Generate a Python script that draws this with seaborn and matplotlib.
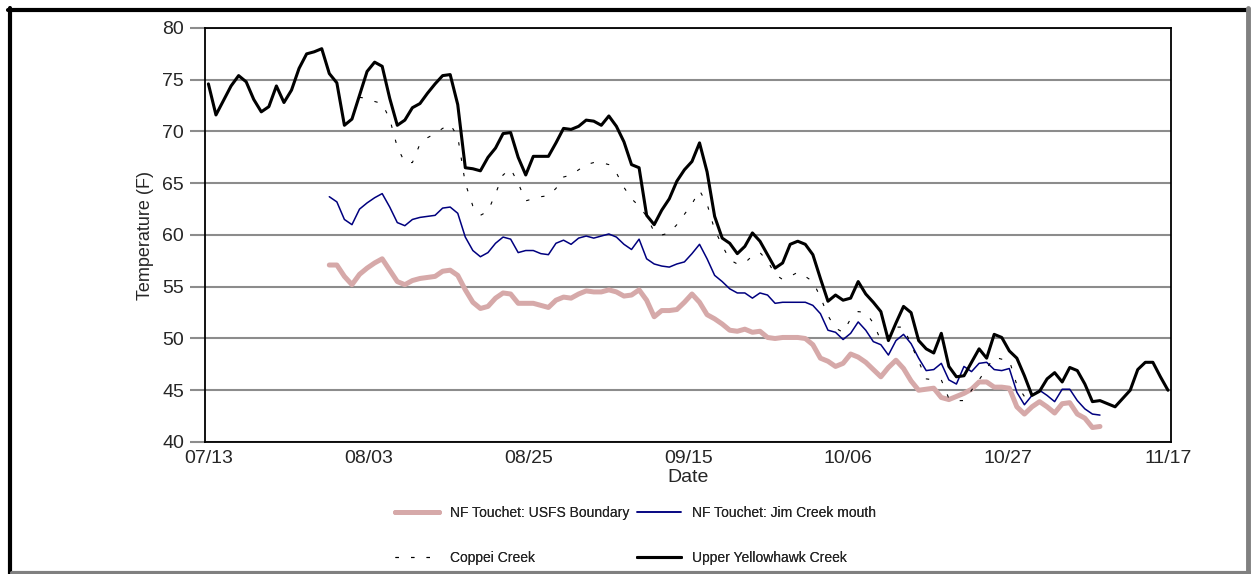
import numpy as np
import pandas as pd
import matplotlib
matplotlib.use("Agg")
import matplotlib.pyplot as plt
from matplotlib.lines import Line2D
import seaborn as sns

# daily mean temperatures (F), day 0 = 07/13
yellowhawk_start = 0
yellowhawk = [74.6, 71.6, 73.0, 74.4, 75.4, 74.8, 73.1, 71.9, 72.4, 74.4,
              72.8, 74.0, 76.1, 77.5, 77.7, 78.0, 75.6, 74.7, 70.6, 71.2,
              73.5, 75.8, 76.7, 76.3, 73.2, 70.6, 71.1, 72.3, 72.7, 73.7,
              74.6, 75.4, 75.5, 72.6, 66.5, 66.4, 66.2, 67.5, 68.4, 69.8,
              69.9, 67.5, 65.8, 67.6, 67.6, 67.6, 68.9, 70.3, 70.2, 70.5,
              71.1, 71.0, 70.6, 71.5, 70.5, 69.0, 66.8, 66.5, 61.9, 61.0,
              62.4, 63.5, 65.2, 66.3, 67.1, 68.9, 66.1, 61.8, 59.7, 59.2,
              58.2, 58.9, 60.2, 59.4, 58.1, 56.8, 57.3, 59.1, 59.4, 59.1,
              58.1, 55.8, 53.6, 54.2, 53.7, 53.9, 55.5, 54.3, 53.5, 52.6,
              49.8, 51.5, 53.1, 52.5, 49.8, 49.0, 48.6, 50.5, 47.3, 46.3,
              46.4, 47.7, 49.0, 48.1, 50.4, 50.1, 48.8, 48.1, 46.4, 44.5,
              44.9, 46.1, 46.7, 45.8, 47.2, 46.9, 45.6, 43.9, 44.0, 43.7,
              43.4, 44.2, 45.0, 47.0, 47.7, 47.7, 46.3, 45.0]

jim_creek_start = 16
jim_creek = [63.7, 63.2, 61.5, 61.0, 62.5, 63.1, 63.6, 64.0, 62.7, 61.2,
             60.9, 61.5, 61.7, 61.8, 61.9, 62.6, 62.7, 62.1, 59.8, 58.5,
             57.9, 58.3, 59.2, 59.8, 59.6, 58.3, 58.5, 58.5, 58.2, 58.1,
             59.2, 59.5, 59.1, 59.7, 59.9, 59.7, 59.9, 60.1, 59.8, 59.1,
             58.6, 59.6, 57.7, 57.2, 57.0, 56.9, 57.2, 57.4, 58.2, 59.1,
             57.7, 56.1, 55.5, 54.8, 54.4, 54.4, 53.9, 54.4, 54.2, 53.4,
             53.5, 53.5, 53.5, 53.5, 53.2, 52.4, 50.8, 50.6, 49.9, 50.5,
             51.6, 50.8, 49.7, 49.4, 48.4, 49.8, 50.4, 49.5, 48.1, 46.9,
             47.0, 47.6, 46.0, 45.6, 47.3, 46.8, 47.6, 47.7, 47.0, 46.9,
             47.1, 44.8, 43.6, 44.5, 45.0, 44.5, 43.9, 45.1, 45.1, 44.0,
             43.2, 42.7, 42.6]

usfs_start = 16
usfs = [57.1, 57.1, 56.0, 55.2, 56.2, 56.8, 57.3, 57.7, 56.6, 55.5,
        55.2, 55.6, 55.8, 55.9, 56.0, 56.5, 56.6, 56.1, 54.7, 53.5,
        52.9, 53.1, 53.9, 54.4, 54.3, 53.4, 53.4, 53.4, 53.2, 53.0,
        53.7, 54.0, 53.9, 54.3, 54.6, 54.5, 54.5, 54.7, 54.5, 54.1,
        54.2, 54.7, 53.7, 52.1, 52.7, 52.7, 52.8, 53.5, 54.3, 53.5,
        52.3, 51.9, 51.4, 50.8, 50.7, 50.9, 50.6, 50.7, 50.1, 50.0,
        50.1, 50.1, 50.1, 50.0, 49.4, 48.1, 47.8, 47.3, 47.6, 48.5,
        48.2, 47.7, 47.0, 46.3, 47.2, 47.9, 47.1, 45.9, 45.0, 45.1,
        45.2, 44.3, 44.1, 44.4, 44.7, 45.1, 45.8, 45.8, 45.3, 45.3,
        45.2, 43.4, 42.7, 43.4, 43.9, 43.4, 42.8, 43.7, 43.8, 42.7,
        42.3, 41.4, 41.5]

coppei_start = 20
coppei = [73.3, 73.2, 72.9, 72.7, 71.2, 68.5, 67.0, 67.0, 68.8, 69.4,
          69.8, 70.3, 70.7, 69.5, 65.0, 62.8, 61.9, 62.3, 64.0, 65.8,
          66.4, 65.0, 63.3, 63.5, 63.7, 63.8, 64.5, 65.6, 65.8, 66.3,
          66.8, 67.0, 67.0, 66.8, 66.0, 64.6, 63.5, 62.8, 61.8, 60.3,
          60.0, 60.2, 61.0, 62.0, 63.0, 64.3, 63.0, 60.5, 59.0, 57.6,
          57.2, 57.3, 58.0, 58.3, 57.5, 56.2, 55.7, 56.0, 56.4, 56.0,
          55.5, 54.0, 52.2, 51.0, 50.6, 51.9, 52.6, 52.5, 51.5, 49.8,
          50.3, 51.1, 51.1, 49.4, 47.8, 46.1, 46.0, 46.0, 44.2, 44.0,
          44.0, 45.0, 46.0, 47.1, 48.2, 48.0, 47.9, 45.5, 44.4, 44.8]

date_labels = ["07/13", "08/03", "08/25", "09/15", "10/06", "10/27", "11/17"]
n_days = 127

PINK = "#d6a9a9"
NAVY = "#00007f"
DOTTED = (0, (3, 11))


def series_frame(start, values):
    return pd.DataFrame({"day": start + np.arange(len(values)), "temp": values})


sns.set_style("white")
plt.rcParams["font.family"] = ["Liberation Sans", "DejaVu Sans"]

fig = plt.figure(figsize=(12.51, 5.74), dpi=100)
ax = fig.add_axes([205 / 1251, 1 - 442 / 574, 966 / 1251, 414 / 574])

sns.lineplot(data=series_frame(usfs_start, usfs), x="day", y="temp", ax=ax,
             color=PINK, lw=3.6, zorder=3)
sns.lineplot(data=series_frame(jim_creek_start, jim_creek), x="day", y="temp", ax=ax,
             color=NAVY, lw=1.1, zorder=4)
sns.lineplot(data=series_frame(coppei_start, coppei), x="day", y="temp", ax=ax,
             color="black", lw=0.8, zorder=5)
ax.lines[-1].set_linestyle(DOTTED)
sns.lineplot(data=series_frame(yellowhawk_start, yellowhawk), x="day", y="temp", ax=ax,
             color="black", lw=2.2, zorder=6)

ax.set_xlim(-0.45, n_days + 0.4)
ax.set_ylim(40, 80)
ax.set_yticks(np.arange(40, 81, 5))
ax.set_xticks(np.linspace(0, n_days, len(date_labels)))
ax.set_xticklabels(date_labels)
ax.yaxis.grid(True, color="#8c8c8c", lw=1.5)
ax.set_axisbelow(True)
ax.tick_params(axis="y", length=11, width=1.5, color="#8c8c8c", labelsize=14, pad=4, left=True)
ax.tick_params(axis="x", length=0, labelsize=14, pad=6)
for s in ax.spines.values():
    s.set_color("black")
    s.set_linewidth(1.3)
ax.set_xlabel("Date", fontsize=14, labelpad=1)
ax.set_ylabel("Temperature (F)", fontsize=13, labelpad=6)

# legend: two columns placed separately
col1 = ([Line2D([], [], color=PINK, lw=3.6), Line2D([], [], color="black", lw=0.8, ls=DOTTED)],
        ["NF Touchet: USFS Boundary", "Coppei Creek"], 395)
col2 = ([Line2D([], [], color=NAVY, lw=1.1), Line2D([], [], color="black", lw=2.2)],
        ["NF Touchet: Jim Creek mouth", "Upper Yellowhawk Creek"], 637)
for h, lab, x0 in (col1, col2):
    leg = fig.legend(h, lab, loc="upper left", bbox_to_anchor=(x0 / 1251, 1 - 506 / 574),
                     frameon=False, prop={"size": 10}, borderaxespad=0,
                     handlelength=3.2, handletextpad=0.75, labelspacing=2.2, borderpad=0)
    fig.add_artist(leg)

# outer frame
fig.add_artist(Line2D([9.5 / 1251, 9.5 / 1251], [1 - 8 / 574, 0], color="black", lw=3, transform=fig.transFigure))
fig.add_artist(Line2D([8 / 1251, 1247 / 1251], [1 - 9.5 / 574, 1 - 9.5 / 574], color="black", lw=3, transform=fig.transFigure))
fig.add_artist(Line2D([1248 / 1251, 1248 / 1251], [1 - 8 / 574, 0], color="#808080", lw=3.5, transform=fig.transFigure))
fig.add_artist(Line2D([12 / 1251, 1], [1 - 572.5 / 574, 1 - 572.5 / 574], color="#808080", lw=3, transform=fig.transFigure))

fig.savefig("out.png", dpi=100)
